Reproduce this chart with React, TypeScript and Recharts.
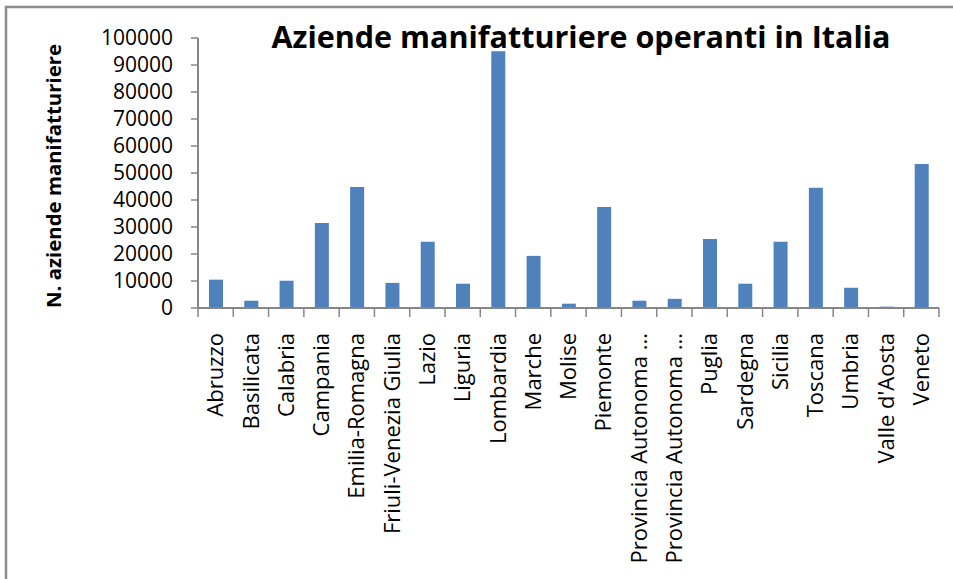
import React from "react";
import { BarChart, Bar, XAxis, YAxis } from "recharts";

const categories = [
  "Abruzzo", "Basilicata", "Calabria", "Campania", "Emilia-Romagna",
  "Friuli-Venezia Giulia", "Lazio", "Liguria", "Lombardia", "Marche",
  "Molise", "Piemonte", "Provincia Autonoma Bolzano", "Provincia Autonoma Trento",
  "Puglia", "Sardegna", "Sicilia", "Toscana", "Umbria", "Valle d'Aosta", "Veneto",
];

const tickLabels = [
  "Abruzzo", "Basilicata", "Calabria", "Campania", "Emilia-Romagna",
  "Friuli-Venezia Giulia", "Lazio", "Liguria", "Lombardia", "Marche",
  "Molise", "Piemonte", "Provincia Autonoma ...", "Provincia Autonoma ...",
  "Puglia", "Sardegna", "Sicilia", "Toscana", "Umbria", "Valle d'Aosta", "Veneto",
];

const aziende = [
  10500, 2700, 10100, 31500, 44800,
  9300, 24500, 9000, 95100, 19300,
  1600, 37400, 2700, 3400,
  25600, 9000, 24500, 44500, 7500, 500, 53300,
];

const yTicks = [0, 10000, 20000, 30000, 40000, 50000, 60000, 70000, 80000, 90000, 100000];

const data = categories.map((c, i) => ({ name: c, label: tickLabels[i], value: aziende[i] }));

const W = 953;
const H = 579;
const PLOT_LEFT = 198;
const PLOT_RIGHT = 939;
const STEP = (PLOT_RIGHT - PLOT_LEFT) / categories.length;
const AXIS_COLOR = "#868686";
const FONT = "'Open Sans', sans-serif";

const CatTick = (props: any) => {
  const { x, y, index } = props;
  const ty = y + 25;
  return (
    <g>
      <line x1={x - STEP / 2} y1={y} x2={x - STEP / 2} y2={y + 9} stroke={AXIS_COLOR} strokeWidth={1.5} />
      {index === categories.length - 1 && (
        <line x1={x + STEP / 2} y1={y} x2={x + STEP / 2} y2={y + 9} stroke={AXIS_COLOR} strokeWidth={1.5} />
      )}
      <text
        x={x}
        y={ty}
        dy="0.35em"
        textAnchor="end"
        transform={`rotate(-90, ${x}, ${ty})`}
        fill="#000"
        fontSize={22}
        fontFamily={FONT}
      >
        {tickLabels[index]}
      </text>
    </g>
  );
};

export default function App() {
  return (
    <div style={{ position: "absolute", left: 0, top: 0, width: W, height: H, background: "#fff", overflow: "hidden" }}>
      <BarChart
        width={W}
        height={H}
        data={data}
        margin={{ top: 38, right: W - PLOT_RIGHT, left: 0, bottom: 0 }}
        barSize={14}
      >
        <XAxis
          dataKey="name"
          interval={0}
          height={H - 38 - 270}
          tickSize={0}
          tickMargin={0}
          tickLine={false}
          axisLine={{ stroke: AXIS_COLOR, strokeWidth: 2 }}
          tick={<CatTick />}
        />
        <YAxis
          width={PLOT_LEFT}
          domain={[0, 100000]}
          ticks={yTicks}
          interval={0}
          tickSize={7}
          tickMargin={18}
          axisLine={{ stroke: AXIS_COLOR, strokeWidth: 2 }}
          tickLine={{ stroke: AXIS_COLOR, strokeWidth: 1.5 }}
          tick={{ fill: "#000", fontSize: 21, fontFamily: FONT }}
        />
        <Bar dataKey="value" fill="#4F81BD" isAnimationActive={false} />
      </BarChart>
      <svg width={W} height={H} style={{ position: "absolute", left: 0, top: 0, pointerEvents: "none" }}>
        <line x1={5} y1={7} x2={W} y2={7} stroke="#8c8c8c" strokeWidth={2.5} />
        <line x1={6} y1={6} x2={6} y2={H} stroke="#8c8c8c" strokeWidth={2.5} />
        <text x={581} y={48} textAnchor="middle" fontSize={30.5} fontWeight="bold" fontFamily={FONT} fill="#000">
          Aziende manifatturiere operanti in Italia
        </text>
        <text
          x={54}
          y={176}
          dy="0.35em"
          textAnchor="middle"
          transform="rotate(-90, 54, 176)"
          fontSize={20.4}
          fontWeight="bold"
          fontFamily={FONT}
          fill="#000"
        >
          N. aziende manifatturiere
        </text>
      </svg>
    </div>
  );
}
